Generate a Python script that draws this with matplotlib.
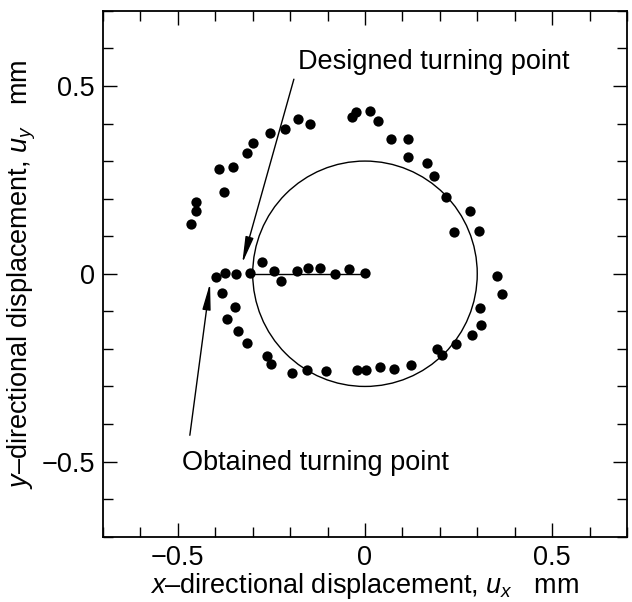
import matplotlib
matplotlib.use("Agg")
import matplotlib.pyplot as plt
from matplotlib.patches import Circle
from matplotlib.ticker import MultipleLocator, FixedLocator, FixedFormatter

plt.rcParams['font.family'] = ['Liberation Sans', 'DejaVu Sans']
plt.rcParams['mathtext.fontset'] = 'custom'
plt.rcParams['mathtext.rm'] = 'Liberation Sans'
plt.rcParams['mathtext.it'] = 'Liberation Sans:italic'

# measured trajectory points (mm)
ux = [-0.465, -0.452, -0.452, -0.377, -0.390, -0.354, -0.316, -0.298, -0.255, -0.213,
      -0.178, -0.147, -0.036, -0.025, 0.013, 0.035, 0.069, 0.116, 0.116, 0.166,
      0.185, 0.217, 0.281, 0.239, 0.305, 0.354, 0.365, 0.307, 0.310, 0.285,
      0.242, 0.192, 0.207, 0.122, 0.078, 0.040, 0.004, -0.022, -0.105, -0.154,
      -0.196, -0.252, -0.263, -0.316, -0.340, -0.368, -0.346, -0.383, -0.398, -0.374,
      -0.345, -0.307, -0.275, -0.243, -0.225, -0.181, -0.152, -0.119, -0.080, -0.044,
      0.000]
uy = [0.132, 0.168, 0.190, 0.217, 0.278, 0.285, 0.322, 0.348, 0.374, 0.385,
      0.413, 0.400, 0.417, 0.430, 0.432, 0.407, 0.358, 0.359, 0.312, 0.296,
      0.259, 0.204, 0.168, 0.111, 0.115, -0.007, -0.053, -0.092, -0.137, -0.163,
      -0.186, -0.200, -0.215, -0.242, -0.253, -0.249, -0.256, -0.256, -0.258, -0.256,
      -0.264, -0.240, -0.218, -0.184, -0.152, -0.121, -0.089, -0.052, -0.009, 0.003,
      0.000, 0.002, 0.031, 0.008, -0.019, 0.008, 0.015, 0.015, -0.001, 0.014,
      0.002]

# designed path
circle_center = (0.0, 0.0)
circle_radius = 0.3
line_x = [-0.3, 0.0]
line_y = [0.0, 0.0]

major_ticks = [-0.5, 0.0, 0.5]
major_labels = ['\u22120.5', '0', '0.5']

fig = plt.figure(figsize=(6.32, 6.02), dpi=100)
ax = fig.add_axes([0.163, 0.1085, 0.829, 0.8735])

ax.add_patch(Circle(circle_center, circle_radius, fill=False, ec='black', lw=1.0))
ax.plot(line_x, line_y, color='black', lw=1.0)
ax.scatter(ux, uy, s=55, color='black', zorder=3, linewidths=0)

ax.set_xlim(-0.7, 0.7)
ax.set_ylim(-0.7, 0.7)

for axis in (ax.xaxis, ax.yaxis):
    axis.set_major_locator(FixedLocator(major_ticks))
    axis.set_major_formatter(FixedFormatter(major_labels))
    axis.set_minor_locator(MultipleLocator(0.1))
ax.tick_params(which='both', direction='in', top=True, right=True, width=1.0,
               labelsize=19.5, pad=6)
ax.tick_params(which='major', length=10)
ax.tick_params(which='minor', length=7)
for s in ax.spines.values():
    s.set_linewidth(1.3)

ax.set_xlabel(r'$x$–directional displacement, $u_x$   mm', fontsize=19.5, labelpad=0)
ax.set_ylabel(r'$y$–directional displacement, $u_y$   mm', fontsize=19.5, labelpad=2)

arrow = dict(arrowstyle='-|>,head_length=1.6,head_width=0.25', lw=1.0,
             color='black', mutation_scale=10, shrinkA=0, shrinkB=0)
ax.annotate('', xy=(-0.328, 0.028), xytext=(-0.19, 0.518), arrowprops=arrow)
ax.text(-0.179, 0.564, 'Designed turning point', fontsize=19.5, ha='left', va='center')
ax.annotate('', xy=(-0.414, -0.025), xytext=(-0.468, -0.43), arrowprops=arrow)
ax.text(-0.488, -0.505, 'Obtained turning point', fontsize=19.5, ha='left', va='center')

fig.savefig('out.png', dpi=100)
